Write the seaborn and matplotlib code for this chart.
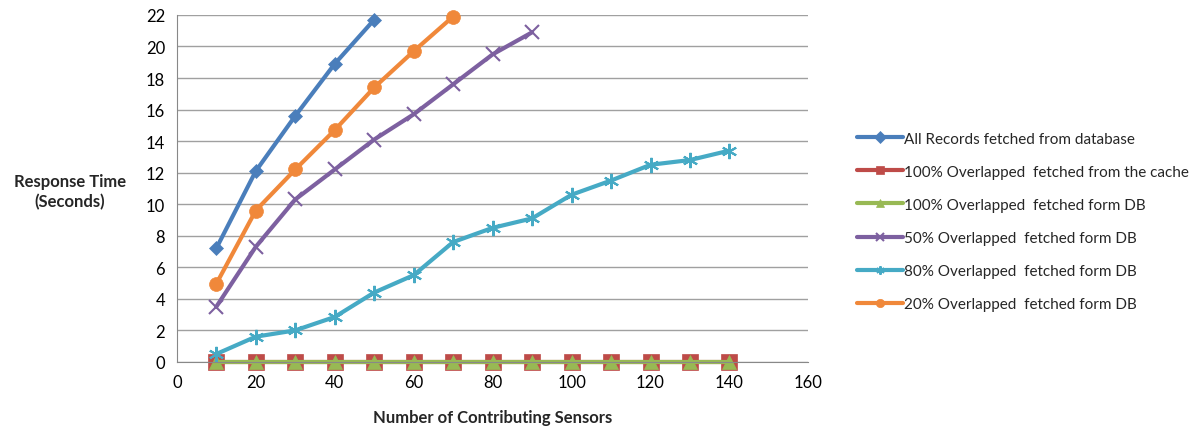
import numpy as np
import pandas as pd
import matplotlib
matplotlib.use('Agg')
import matplotlib.pyplot as plt
import seaborn as sns

# Values
sensors = [10, 20, 30, 40, 50, 60, 70, 80, 90, 100, 110, 120, 130, 140]
all_records = [7.2, 12.1, 15.6, 18.9, 21.7]
cache_100 = [0] * 14
db_100 = [0] * 14
db_50 = [3.5, 7.3, 10.3, 12.2, 14.1, 15.7, 17.6, 19.5, 20.9]
db_80 = [0.5, 1.6, 2.0, 2.85, 4.4, 5.5, 7.6, 8.5, 9.1, 10.6, 11.5, 12.5, 12.8, 13.4]
db_20 = [4.95, 9.6, 12.2, 14.7, 17.4, 19.7, 21.9]

labels = ['All Records fetched from database',
          '100% Overlapped  fetched from the cache',
          '100% Overlapped  fetched form DB',
          '50% Overlapped  fetched form DB',
          '80% Overlapped  fetched form DB',
          '20% Overlapped  fetched form DB']
series = [all_records, cache_100, db_100, db_50, db_80, db_20]
colors = ['#4A7EBB', '#BE4B48', '#98B954', '#7D60A0', '#46AAC5', '#F0883A']
markers = ['D', 's', '^', 'x', (6, 2, 0), 'o']
msizes = [7, 11, 10, 10, 11, 10]

sns.set_style('white')
plt.rcParams['font.family'] = ['Lato', 'DejaVu Sans']

fig = plt.figure(figsize=(12.03, 4.31), dpi=100)
ax = fig.add_axes([0.147, 0.158, 0.525, 0.805])

for lab, vals, c, m, ms in zip(labels, series, colors, markers, msizes):
    df = pd.DataFrame({'x': sensors[:len(vals)], 'y': vals})
    sns.lineplot(data=df, x='x', y='y', ax=ax, color=c, marker=m,
                 markersize=ms, linewidth=3, label=lab, clip_on=False,
                 markeredgecolor=c, markeredgewidth=1.5 if m in ['x', (6, 2, 0)] else 0.5)

ax.set_xlim(0, 160)
ax.set_ylim(0, 22)
ax.set_xticks(range(0, 161, 20))
ax.set_yticks(range(0, 23, 2))
ax.yaxis.grid(True, color='#A0A0A0', linewidth=1)
ax.xaxis.grid(False)
ax.set_axisbelow(True)
for s in ['top', 'right']:
    ax.spines[s].set_visible(False)
for s in ['left', 'bottom']:
    ax.spines[s].set_color('#888888')
ax.tick_params(axis='both', direction='out', length=5, colors='#888888',
               labelcolor='black', labelsize=12)

ax.set_xlabel('Number of Contributing Sensors', fontsize=12, fontweight='bold', labelpad=14)
ax.set_ylabel('')
fig.text(0.058, 0.555, 'Response Time\n(Seconds)', ha='center', va='center',
         fontsize=12, fontweight='bold', linespacing=1.3)

leg = ax.legend(loc='center left', bbox_to_anchor=(1.055, 0.405), frameon=False,
                fontsize=11, handlelength=3, labelspacing=1.25, handletextpad=0.1)
for h in leg.legend_handles:
    h.set_markersize(6)

fig.savefig('out.png', dpi=100)
